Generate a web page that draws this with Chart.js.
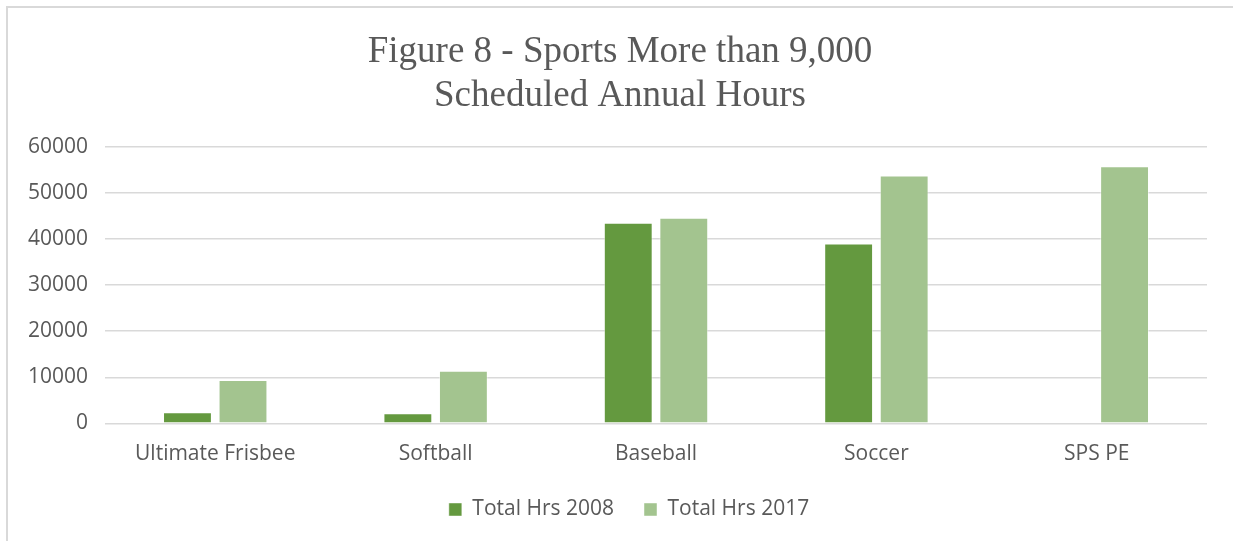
<!DOCTYPE html>
<html>
<head>
<meta charset="utf-8">
<script src="https://cdn.jsdelivr.net/npm/chart.js@4/dist/chart.umd.min.js"></script>
<style>
  html, body { margin: 0; padding: 0; background: #ffffff; }
  #frame {
    position: absolute; left: 6px; top: 6px; width: 1227px; height: 535px;
    border-top: 2px solid #d9d9d9; border-left: 2px solid #d9d9d9;
    box-sizing: border-box;
  }
  #wrap { position: absolute; left: 0; top: 0; width: 1233px; height: 541px; }
</style>
</head>
<body>
<div id="frame"></div>
<div id="wrap"><canvas id="chart" width="1233" height="541"></canvas></div>
<script>
// Sports with more than 9,000 scheduled annual hours
const categories = ['Ultimate Frisbee', 'Softball', 'Baseball', 'Soccer', 'SPS PE'];
const hours2008 = [2400, 2200, 43500, 39000, null];
const hours2017 = [9400, 11400, 44600, 53800, 55800];
const seriesNames = ['Total Hrs 2008', 'Total Hrs 2017'];
const titleLines = ['Figure 8 - Sports More than 9,000', 'Scheduled Annual Hours'];
const yTicks = { min: 0, max: 60000, step: 10000 };

const textColor = '#595959';
const sansFont = "'Open Sans', 'Liberation Sans', sans-serif";
const xLabelPadding = 18;
const xAxisHeight = 45.6;

// Nudges the title and legend blocks horizontally after layout
const blockShift = {
  id: 'blockShift',
  afterLayout(chart, args, opts) {
    if (chart.titleBlock) {
      chart.titleBlock.left += opts.titleDx;
      chart.titleBlock.right += opts.titleDx;
    }
    if (chart.legend) {
      chart.legend.left += opts.legendDx;
      chart.legend.right += opts.legendDx;
    }
  }
};

new Chart(document.getElementById('chart'), {
  type: 'bar',
  data: {
    labels: categories,
    datasets: [
      {
        label: seriesNames[0],
        data: hours2008,
        backgroundColor: '#64993f',
        borderColor: 'rgba(255,255,255,0.45)',
        borderWidth: 1,
        categoryPercentage: 0.504,
        barPercentage: 0.88
      },
      {
        label: seriesNames[1],
        data: hours2017,
        backgroundColor: '#a3c48f',
        borderColor: 'rgba(255,255,255,0.45)',
        borderWidth: 1,
        categoryPercentage: 0.504,
        barPercentage: 0.88
      }
    ]
  },
  plugins: [blockShift],
  options: {
    responsive: false,
    animation: false,
    events: [],
    layout: { padding: { top: 0, left: 11, right: 26, bottom: 11 } },
    plugins: {
      blockShift: { titleDx: 11, legendDx: 20 },
      title: {
        display: true,
        text: titleLines,
        color: textColor,
        font: { family: "'Liberation Serif', 'Times New Roman', serif", size: 37, weight: 'normal', lineHeight: 1.2 },
        padding: { top: 30, bottom: 28 }
      },
      legend: {
        position: 'bottom',
        labels: {
          color: textColor,
          font: { family: sansFont, size: 21 },
          boxWidth: 13,
          boxHeight: 13,
          padding: 30
        }
      },
      tooltip: { enabled: false }
    },
    scales: {
      x: {
        grid: { display: false, drawTicks: false },
        border: { display: false },
        ticks: { color: textColor, font: { family: sansFont, size: 21 }, padding: xLabelPadding },
        afterFit: (scale) => { scale.height = xAxisHeight; }
      },
      y: {
        min: yTicks.min,
        max: yTicks.max,
        grid: { color: '#d9d9d9', lineWidth: 1.6, drawTicks: false },
        border: { display: false },
        ticks: {
          stepSize: yTicks.step,
          color: textColor,
          font: { family: sansFont, size: 21 },
          padding: 17,
          callback: (v) => String(v)
        }
      }
    }
  }
});
</script>
</body>
</html>
